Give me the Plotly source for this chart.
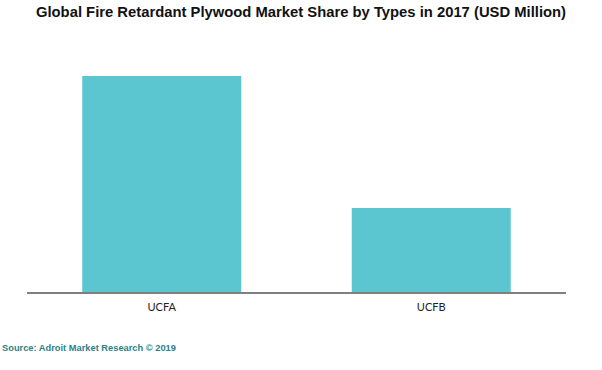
import plotly.graph_objects as go

categories = ["UCFA", "UCFB"]
values = [100.0, 38.9]

title_text = "Global Fire Retardant Plywood Market Share by Types in 2017 (USD Million)"
source_text = "Source: Adroit Market Research © 2019"

fig = go.Figure(go.Bar(
    x=categories, y=values,
    marker=dict(color="#5BC5D0", line=dict(width=0)),
    hoverinfo="x+y",
))

fig.update_layout(
    width=602, height=370,
    margin=dict(l=27, r=36, t=40, b=78),
    paper_bgcolor="white", plot_bgcolor="white",
    bargap=0.41,
    showlegend=False,
    title=dict(text="<b>" + title_text + "</b>", x=0.5, xanchor="center",
               y=1 - 12 / 370, yanchor="middle",
               font=dict(family="Liberation Sans, Arial", size=14.8, color="#111111")),
    xaxis=dict(showline=True, linecolor="#7f7f7f", linewidth=1.5, ticks="",
               ticklabelstandoff=4,
               tickfont=dict(family="Lato, Open Sans", size=11, color="#222222"),
               showgrid=False, zeroline=False, fixedrange=True),
    yaxis=dict(visible=False, range=[0, 100.0 * 252 / 216], showgrid=False, zeroline=False),
    annotations=[dict(text="<b>" + source_text + "</b>", xref="paper", yref="paper",
                      x=-27 / 539, y=-(348 - 292) / 252, xanchor="left", yanchor="middle",
                      showarrow=False,
                      font=dict(family="Liberation Sans, Arial", size=9.3, color="#2F7F86"))],
)

fig.write_html("out.html", config={"displayModeBar": False},
               post_script="document.body.style.margin='0';")
